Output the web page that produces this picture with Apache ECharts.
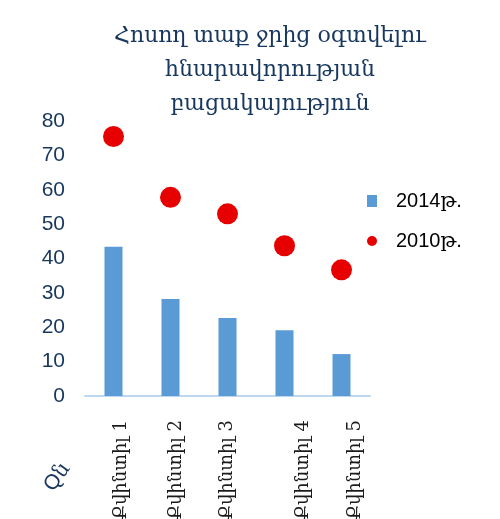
<!DOCTYPE html>
<html>
<head>
<meta charset="utf-8">
<script src="https://cdn.jsdelivr.net/npm/echarts@6/dist/echarts.min.js"></script>
<style>
  html, body { margin: 0; padding: 0; background: #fff; }
  #chart { width: 500px; height: 519px; }
</style>
</head>
<body>
<div id="chart"></div>
<script>
const categories = ["Քվինտիլ 1", "Քվինտիլ 2", "Քվինտիլ 3", "Քվինտիլ 4", "Քվինտիլ 5"];
const labelShift = [8, 6, 0, 19, 14];
const values2014 = [43.4, 28.2, 22.7, 19.1, 12.2];
const values2010 = [75.5, 57.8, 53.0, 43.7, 36.7];
const yTicks = [0, 10, 20, 30, 40, 50, 60, 70, 80];

const chart = echarts.init(document.getElementById("chart"));
const navy = "#17375E";

// one rich style per category so each rotated label can sit a little off its tick
const labelRich = {};
labelShift.forEach((s, i) => {
  labelRich["s" + i] = { padding: [s * 2, 0, 0, 0] };
});

const option = {
  title: {
    text: "Հոսող տաք ջրից օգտվելու\nհնարավորության\nբացակայություն",
    left: 265,
    top: 14,
    textAlign: "center",
    textStyle: {
      fontFamily: "'DejaVu Serif'",
      fontSize: 22,
      fontWeight: "normal",
      color: navy,
      lineHeight: 34
    }
  },
  legend: {
    orient: "vertical",
    left: 362,
    top: 186,
    itemWidth: 10,
    itemHeight: 12,
    itemGap: 20,
    textStyle: {
      fontFamily: "'Liberation Sans', 'DejaVu Serif'",
      fontSize: 20,
      color: "#000",
      padding: [0, 0, 0, 14]
    },
    data: [
      { name: "2014թ.", icon: "rect" },
      { name: "2010թ.", icon: "circle" }
    ]
  },
  grid: {
    left: 85,
    right: 130,
    top: 121,
    bottom: 123,
    outerBoundsMode: "none",
    containLabel: false
  },
  xAxis: {
    type: "category",
    data: categories,
    axisLine: { lineStyle: { color: "#BDD7EE", width: 2 } },
    axisTick: { show: false },
    axisLabel: {
      rotate: 90,
      margin: 24,
      fontFamily: "'DejaVu Serif'",
      fontSize: 18,
      color: "#1a1a1a",
      formatter: (value, index) => "{s" + index + "|" + value + "}",
      rich: labelRich
    }
  },
  yAxis: {
    type: "value",
    min: yTicks[0],
    max: yTicks[yTicks.length - 1],
    interval: 10,
    axisLine: { show: false },
    axisTick: { show: false },
    splitLine: { show: false },
    axisLabel: {
      margin: 20,
      fontFamily: "'Liberation Sans'",
      fontSize: 21,
      color: navy
    }
  },
  graphic: [
    {
      type: "text",
      x: 40,
      y: 483,
      rotation: 0.95,
      style: {
        text: "Qն",
        fontFamily: "'Liberation Sans', 'DejaVu Serif'",
        fontSize: 21,
        fill: navy
      }
    }
  ],
  series: [
    {
      name: "2014թ.",
      type: "bar",
      data: values2014,
      barWidth: 18,
      itemStyle: { color: "#5B9BD5" }
    },
    {
      name: "2010թ.",
      type: "scatter",
      data: values2010,
      symbol: "circle",
      symbolSize: 21,
      itemStyle: { color: "#E60000", opacity: 1 }
    }
  ]
};

chart.setOption(option);
</script>
</body>
</html>
